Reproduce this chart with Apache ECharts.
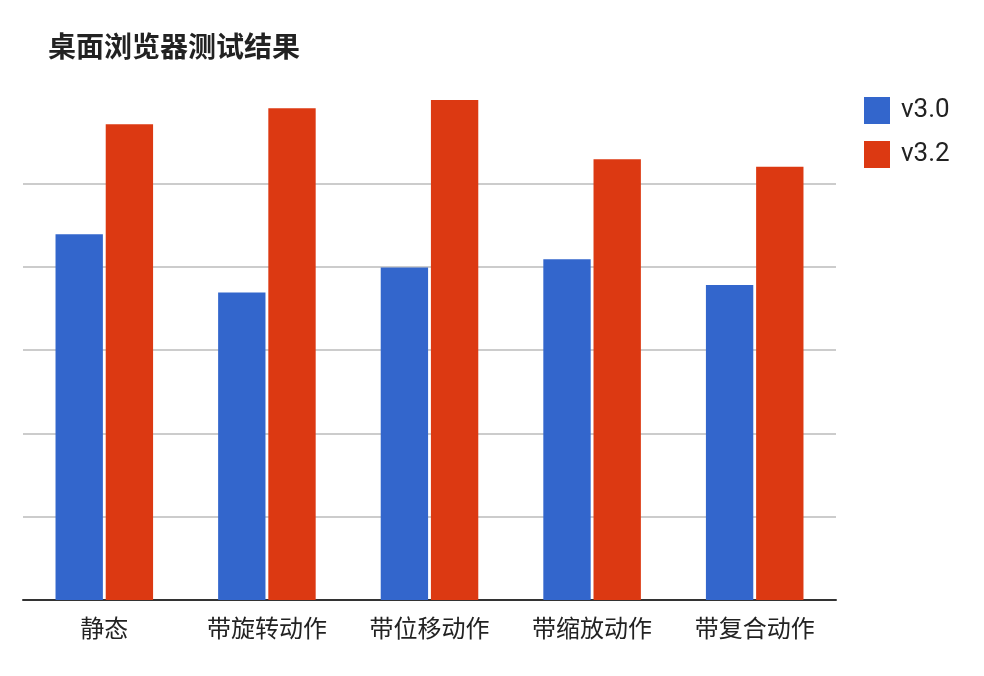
<!DOCTYPE html>
<html>
<head>
<meta charset="utf-8">
<script src="https://cdn.jsdelivr.net/npm/echarts@6/dist/echarts.min.js"></script>
<style>
html,body{margin:0;padding:0;background:#fff;}
#main{width:984px;height:676px;}
</style>
</head>
<body>
<div id="main"></div>
<script>
var categories = ['静态', '带旋转动作', '带位移动作', '带缩放动作', '带复合动作'];
var v30 = [43.9, 36.9, 39.9, 40.9, 37.8];
var v32 = [57.1, 59.0, 60.0, 52.9, 52.0];

var chart = echarts.init(document.getElementById('main'));
var option = {
    animation: false,
    backgroundColor: '#fff',
    title: {
        text: '桌面浏览器测试结果',
        left: 43,
        top: 27,
        textStyle: {
            fontFamily: 'Noto Sans CJK SC',
            fontSize: 28,
            fontWeight: 'bold',
            color: '#222'
        }
    },
    legend: {
        orient: 'vertical',
        left: 859,
        top: 92,
        itemWidth: 26,
        itemHeight: 27,
        itemGap: 17,
        icon: 'rect',
        data: ['v3.0', 'v3.2'],
        textStyle: {
            fontFamily: 'Roboto',
            fontSize: 26,
            color: '#222',
            padding: [0, 0, 0, 6]
        }
    },
    grid: {
        left: 23,
        right: 148,
        top: 100,
        bottom: 76
    },
    xAxis: {
        type: 'category',
        data: categories,
        axisTick: {show: false},
        axisLine: {lineStyle: {color: '#333', width: 2}},
        axisLabel: {
            margin: 16,
            fontFamily: 'Noto Sans CJK SC',
            fontSize: 24,
            color: '#222'
        }
    },
    yAxis: {
        type: 'value',
        min: 0,
        max: 60,
        interval: 10,
        axisLabel: {show: false},
        axisLine: {show: false},
        axisTick: {show: false},
        splitLine: {
            lineStyle: {
                color: ['#ccc', '#ccc', '#ccc', '#ccc', '#ccc', '#ccc', 'rgba(0,0,0,0)'],
                width: 2
            }
        }
    },
    series: [
        {
            name: 'v3.0',
            type: 'bar',
            data: v30,
            barGap: '6%',
            barCategoryGap: '40%',
            itemStyle: {color: '#3366cc'}
        },
        {
            name: 'v3.2',
            type: 'bar',
            data: v32,
            barGap: '6%',
            barCategoryGap: '40%',
            itemStyle: {color: '#dc3912'}
        }
    ]
};
chart.setOption(option);
window.onresize = chart.resize;
</script>
</body>
</html>
